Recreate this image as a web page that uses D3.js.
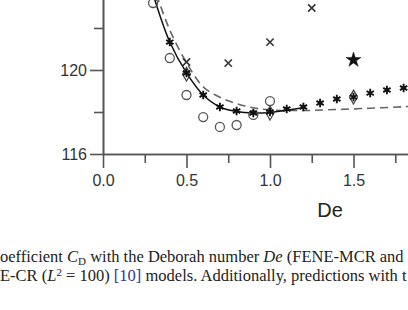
<!DOCTYPE html>
<html>
<head>
<meta charset="utf-8">
<script src="https://cdn.jsdelivr.net/npm/d3@7"></script>
<style>
    html, body { margin: 0; padding: 0; background: #fff; }
    svg { display: block; }
</style>
</head>
<body>
<svg id="chart" width="408" height="310"></svg>
<script>
// ticks
const xMajorTicks = [0, 0.5, 1.0, 1.5];
const xMinorTicks = [0.25, 0.75, 1.25, 1.75];
const yMajorTicks = [116, 120];
const yMinorTicks = [118, 122];

// solid curve
const solidDe = [0.30, 0.40, 0.50, 0.60, 0.70, 0.80, 0.90, 1.00, 1.10, 1.20];
const solidCd = [123.6, 121.33, 119.86, 118.81, 118.24, 118.02, 117.95, 117.98, 118.08, 118.2];

// dashed curve
const dashedDe = [0.32, 0.40, 0.50, 0.60, 0.70, 0.80, 0.90, 1.00, 1.20, 1.40, 1.60, 1.80, 1.90];
const dashedCd = [123.6, 121.9, 120.35, 119.2, 118.7, 118.4, 118.2, 118.1, 118.07, 118.12, 118.18, 118.25, 118.3];

// asterisks
const asteriskDe = [0.4, 0.5, 0.6, 0.7, 0.8, 0.9, 1.0, 1.1, 1.2, 1.3, 1.4, 1.5, 1.6, 1.7, 1.8];
const asteriskCd = [121.33, 119.86, 118.81, 118.24, 118.05, 117.95, 118.0, 118.14, 118.24, 118.43, 118.62, 118.71, 118.9, 119.05, 119.14];

// open circles
const circleDe = [0.3, 0.4, 0.5, 0.6, 0.7, 0.8, 0.9, 1.0];
const circleCd = [123.19, 120.57, 118.81, 117.76, 117.29, 117.38, 117.86, 118.52];

// crosses
const crossDe = [0.5, 0.75, 1.0, 1.25];
const crossCd = [120.38, 120.33, 121.33, 122.95];

// open diamonds
const diamondDe = [0.5, 1.0, 1.5];
const diamondCd = [119.8, 117.95, 118.71];

// filled star
const starDe = [1.5];
const starCd = [120.48];

const svg = d3.select('#chart');
const axisColor = '#555';

const x = d3.scaleLinear().domain([0, 2]).range([103, 437]);
const y = d3.scaleLinear().domain([116, 124]).range([154, -14]);

const zip = (xs, ys) => xs.map((v, i) => [v, ys[i]]);

// axes
const xMajor = svg.append('g')
    .attr('transform', 'translate(0,' + y(116) + ')')
    .call(d3.axisBottom(x).tickValues(xMajorTicks).tickSize(14).tickSizeOuter(0).tickPadding(7).tickFormat(d3.format('.1f')));
const xMinor = svg.append('g')
    .attr('transform', 'translate(0,' + y(116) + ')')
    .call(d3.axisBottom(x).tickValues(xMinorTicks).tickSize(9).tickSizeOuter(0).tickFormat(''));
const yMajor = svg.append('g')
    .attr('transform', 'translate(' + x(0) + ',0)')
    .call(d3.axisLeft(y).tickValues(yMajorTicks).tickSize(13).tickSizeOuter(0).tickPadding(3));
const yMinor = svg.append('g')
    .attr('transform', 'translate(' + x(0) + ',0)')
    .call(d3.axisLeft(y).tickValues(yMinorTicks).tickSize(9).tickSizeOuter(0).tickFormat(''));

[xMajor, xMinor, yMajor, yMinor].forEach(g => {
    g.select('.domain').attr('stroke', axisColor).attr('stroke-width', 1.6);
    g.selectAll('.tick line').attr('stroke', axisColor).attr('stroke-width', 1.6);
    g.selectAll('.tick text')
        .attr('fill', '#333')
        .style('font-family', '"Liberation Sans", Arial, sans-serif')
        .style('font-size', '16px');
});

svg.append('text')
    .attr('x', 330)
    .attr('y', 217)
    .attr('text-anchor', 'middle')
    .attr('fill', '#222')
    .style('font-family', '"Liberation Sans", Arial, sans-serif')
    .style('font-size', '20px')
    .text('De');

// curves
const line = d3.line()
    .x(d => x(d[0]))
    .y(d => y(d[1]))
    .curve(d3.curveCatmullRom);

svg.append('path')
    .datum(zip(dashedDe, dashedCd))
    .attr('d', line)
    .attr('fill', 'none')
    .attr('stroke', '#666')
    .attr('stroke-width', 1.6)
    .attr('stroke-dasharray', '8,5');

svg.append('path')
    .datum(zip(solidDe, solidCd))
    .attr('d', line)
    .attr('fill', 'none')
    .attr('stroke', '#111')
    .attr('stroke-width', 1.5);

// markers
function markers(de, cd, type, size, fill, stroke, width) {
    svg.append('g')
        .selectAll('path')
        .data(zip(de, cd)).enter()
        .append('path')
            .attr('transform', d => 'translate(' + x(d[0]) + ',' + y(d[1]) + ')')
            .attr('d', d3.symbol().type(type).size(size))
            .attr('fill', fill)
            .attr('stroke', stroke)
            .attr('stroke-width', width);
}

markers(circleDe, circleCd, d3.symbolCircle, 64, 'none', '#555', 1.3);
markers(diamondDe, diamondCd, d3.symbolDiamond, 56, 'none', '#444', 1.2);
markers(asteriskDe, asteriskCd, d3.symbolAsterisk, 50, 'none', '#111', 1.9);
markers(crossDe, crossCd, d3.symbolTimes, 36, 'none', '#333', 1.6);
markers(starDe, starCd, d3.symbolStar, 70, '#111', '#111', 0.5);

// caption
const caption = svg.append('g')
    .style('font-family', '"Liberation Serif", "Times New Roman", serif')
    .style('font-size', '16.5px')
    .attr('fill', '#222');

const line1 = caption.append('text').attr('x', 0).attr('y', 262);
line1.append('tspan').text('oefficient ');
line1.append('tspan').style('font-style', 'italic').text('C');
line1.append('tspan').attr('dy', 3).style('font-size', '11px').text('D');
line1.append('tspan').attr('dy', -3).text(' with the Deborah number ');
line1.append('tspan').style('font-style', 'italic').text('De');
line1.append('tspan').text(' (FENE-MCR and');

const line2 = caption.append('text').attr('x', 0).attr('y', 281);
line2.append('tspan').text('E-CR (');
line2.append('tspan').style('font-style', 'italic').text('L');
line2.append('tspan').attr('dy', -5).style('font-size', '11px').text('2');
line2.append('tspan').attr('dy', 5).text(' = 100) ');
line2.append('tspan').attr('fill', '#33338f').text('[10]');
line2.append('tspan').text(' models. Additionally, predictions with t');
</script>
</body>
</html>
